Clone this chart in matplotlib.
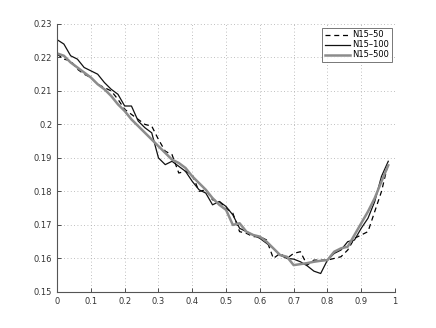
import numpy as np
import matplotlib
matplotlib.use("Agg")
import matplotlib.pyplot as plt

# sample positions
x = np.arange(50) * 0.02

n15_50 = [0.2210, 0.2195, 0.2190, 0.2165, 0.2150, 0.2140, 0.2120, 0.2110, 0.2100, 0.2075,
          0.2045, 0.2030, 0.2015, 0.2000, 0.1995, 0.1955, 0.1920, 0.1910, 0.1855, 0.1860,
          0.1850, 0.1800, 0.1805, 0.1775, 0.1770, 0.1750, 0.1735, 0.1680, 0.1675, 0.1665,
          0.1665, 0.1655, 0.1600, 0.1615, 0.1600, 0.1615, 0.1620, 0.1580, 0.1595, 0.1595,
          0.1595, 0.1600, 0.1605, 0.1625, 0.1660, 0.1670, 0.1680, 0.1740, 0.1800, 0.1885]

n15_100 = [0.2253, 0.2240, 0.2205, 0.2195, 0.2170, 0.2160, 0.2150, 0.2125, 0.2105, 0.2090,
           0.2055, 0.2055, 0.2010, 0.1990, 0.1975, 0.1900, 0.1880, 0.1890, 0.1875, 0.1860,
           0.1830, 0.1805, 0.1795, 0.1760, 0.1770, 0.1755, 0.1730, 0.1690, 0.1680, 0.1670,
           0.1660, 0.1645, 0.1630, 0.1610, 0.1600, 0.1598, 0.1590, 0.1578, 0.1562, 0.1555,
           0.1595, 0.1615, 0.1625, 0.1650, 0.1655, 0.1690, 0.1720, 0.1770, 0.1845, 0.1890]

n15_500 = [0.2212, 0.2205, 0.2185, 0.2170, 0.2155, 0.2140, 0.2120, 0.2105, 0.2085, 0.2060,
           0.2040, 0.2015, 0.1995, 0.1975, 0.1955, 0.1935, 0.1915, 0.1895, 0.1885, 0.1870,
           0.1845, 0.1825, 0.1805, 0.1780, 0.1760, 0.1745, 0.1700, 0.1705, 0.1680, 0.1670,
           0.1665, 0.1650, 0.1630, 0.1610, 0.1605, 0.1580, 0.1583, 0.1586, 0.1590, 0.1593,
           0.1595, 0.1620, 0.1630, 0.1635, 0.1670, 0.1705, 0.1740, 0.1780, 0.1830, 0.1878]

fig = plt.figure(figsize=(4.36, 3.28), dpi=100)
ax = fig.add_axes([0.131, 0.110, 0.775, 0.817])

ax.plot(x, n15_50, color="black", lw=0.9, ls=(0, (4, 3)), label="N15\u201350")
ax.plot(x, n15_100, color="#111111", lw=0.9, label="N15\u2013100")
ax.plot(x, n15_500, color="#8c8c8c", lw=1.8, label="N15\u2013500")

ax.set_xlim(0, 1)
ax.set_ylim(0.15, 0.23)
ax.set_xticks(np.arange(0, 1.01, 0.1))
ax.set_xticklabels(["0", "0.1", "0.2", "0.3", "0.4", "0.5", "0.6", "0.7", "0.8", "0.9", "1"])
ax.set_yticks(np.arange(0.15, 0.2301, 0.01))
ax.set_yticklabels(["0.15", "0.16", "0.17", "0.18", "0.19", "0.2", "0.21", "0.22", "0.23"])
ax.tick_params(direction="in", labelsize=6, length=3, width=0.6, colors="#333333")
ax.grid(True, ls=(0, (1, 3)), color="#aaaaaa", lw=0.6)
for s in ["top", "right"]:
    ax.spines[s].set_visible(False)
for s in ["left", "bottom"]:
    ax.spines[s].set_color("#555555")
    ax.spines[s].set_linewidth(0.8)

leg = ax.legend(loc="upper right", fontsize=6, fancybox=False, borderpad=0.3,
                handlelength=3.0, handletextpad=0.3, labelspacing=0.12,
                borderaxespad=0, bbox_to_anchor=(0.99, 0.985))
leg.get_frame().set_edgecolor("#555555")
leg.get_frame().set_linewidth(0.7)

fig.savefig("out.png", dpi=100)
